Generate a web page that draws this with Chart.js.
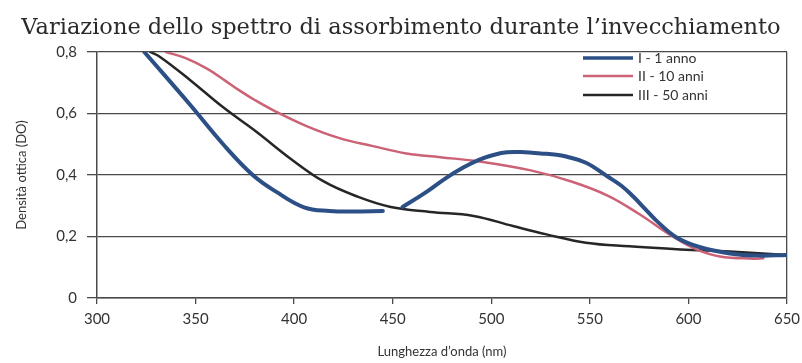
<!DOCTYPE html>
<html>
<head>
<meta charset="utf-8">
<script src="https://cdn.jsdelivr.net/npm/chart.js@4"></script>
<style>
  html, body { margin: 0; padding: 0; background: #fff; }
  #wrap { width: 802px; height: 363px; }
</style>
</head>
<body>
<div id="wrap"><canvas id="spettro"></canvas></div>
<script>
// lunghezze d'onda (nm) e densità ottica per ciascuna curva
const waveI = [324, 347, 364, 379, 391, 405, 418, 430, 445, 450,
  455, 466, 477, 486, 494, 501, 508, 517, 525, 533, 538, 548, 559, 566, 572, 578, 584, 594, 606, 621, 635, 650];
const doI = [0.80, 0.63, 0.50, 0.40, 0.345, 0.295, 0.283, 0.281, 0.283, null,
  0.296, 0.34, 0.39, 0.425, 0.45, 0.465, 0.474, 0.474, 0.47, 0.466, 0.46, 0.44, 0.395, 0.365, 0.33, 0.29, 0.25, 0.197, 0.165, 0.145, 0.138, 0.14];

const waveII = [335, 345, 356, 365, 372, 380, 389, 406, 423, 440, 457, 474, 494, 520, 541, 559, 575, 592, 604, 616, 633, 638];
const doII = [0.80, 0.78, 0.745, 0.707, 0.676, 0.644, 0.612, 0.56, 0.52, 0.494, 0.47, 0.458, 0.444, 0.415, 0.378, 0.333, 0.273, 0.20, 0.158, 0.135, 0.128, 0.129];

const waveIII = [327, 332, 347, 364, 381, 398, 415, 432, 449, 469, 491, 511, 528, 548, 570, 596, 621, 650];
const doIII = [0.80, 0.784, 0.71, 0.62, 0.54, 0.454, 0.379, 0.33, 0.296, 0.28, 0.267, 0.234, 0.207, 0.18, 0.168, 0.158, 0.151, 0.14];

const seriesNames = ['I - 1 anno', 'II - 10 anni', 'III - 50 anni'];
const seriesColors = ['#2c5086', '#cc6275', '#262626'];

const xTicks = [300, 350, 400, 450, 500, 550, 600, 650];
const yTicks = [0, 0.2, 0.4, 0.6, 0.8];
const yTickLabels = ['0', '0,2', '0,4', '0,6', '0,8'];

const zip = (xs, ys) => xs.map((x, i) => ({ x: x, y: ys[i] }));

const sansFont = 'Lato, "Open Sans", sans-serif';
const gridColor = '#4a4a4a';

// legenda disegnata dentro l'area del grafico, in alto a destra
const legendaInterna = {
  id: 'legendaInterna',
  afterDatasetsDraw(chart) {
    const { ctx, chartArea } = chart;
    const rows = [6, 24, 43];
    ctx.save();
    ctx.font = '14px ' + sansFont;
    ctx.textBaseline = 'middle';
    chart.data.datasets.forEach((ds, i) => {
      const y = chartArea.top + rows[i];
      ctx.strokeStyle = ds.borderColor;
      ctx.lineWidth = i === 0 ? 3.5 : 2.5;
      ctx.beginPath();
      ctx.moveTo(chartArea.right - 204, y);
      ctx.lineTo(chartArea.right - 154, y);
      ctx.stroke();
      ctx.fillStyle = '#333';
      ctx.fillText(ds.label, chartArea.right - 149, y);
    });
    ctx.restore();
  }
};

new Chart(document.getElementById('spettro'), {
  type: 'line',
  data: {
    datasets: [
      { label: seriesNames[0], data: zip(waveI, doI), borderColor: seriesColors[0], borderWidth: 4 },
      { label: seriesNames[1], data: zip(waveII, doII), borderColor: seriesColors[1], borderWidth: 2.5 },
      { label: seriesNames[2], data: zip(waveIII, doIII), borderColor: seriesColors[2], borderWidth: 2.5 }
    ]
  },
  options: {
    responsive: true,
    maintainAspectRatio: false,
    animation: false,
    spanGaps: false,
    layout: { padding: { left: 0, right: 0, top: 0, bottom: 0 } },
    elements: {
      point: { radius: 0 },
      line: { tension: 0.4, borderCapStyle: 'round' }
    },
    plugins: {
      legend: { display: false },
      tooltip: { enabled: false },
      title: {
        display: true,
        text: 'Variazione dello spettro di assorbimento durante l’invecchiamento',
        color: '#2a2a2a',
        font: { family: '"DejaVu Serif", "Liberation Serif", serif', size: 22.5, weight: 'normal' },
        padding: { top: 15, bottom: 10 }
      }
    },
    scales: {
      x: {
        type: 'linear',
        min: 300,
        max: 650,
        afterFit: s => { s.height = 65; s.paddingRight = 15; },
        afterBuildTicks: s => { s.ticks = xTicks.map(v => ({ value: v })); },
        ticks: {
          color: '#333',
          font: { family: sansFont, size: 15 },
          padding: 6,
          maxRotation: 0,
          autoSkip: false
        },
        grid: {
          drawOnChartArea: true,
          color: c => (c.tick && c.tick.value === 650 ? gridColor : 'transparent'),
          tickColor: gridColor,
          tickLength: 6,
          lineWidth: 1.3
        },
        border: { color: gridColor, width: 1.5 },
        title: {
          display: true,
          text: 'Lunghezza d’onda (nm)',
          color: '#333',
          font: { family: sansFont, size: 13 },
          padding: { top: 0, bottom: 3 }
        }
      },
      y: {
        min: 0,
        max: 0.8,
        afterFit: s => { s.width = 97; },
        afterBuildTicks: s => { s.ticks = yTicks.map(v => ({ value: v })); },
        ticks: {
          color: '#333',
          font: { family: sansFont, size: 15 },
          padding: 10,
          callback: v => yTickLabels[yTicks.findIndex(t => Math.abs(t - v) < 1e-6)]
        },
        grid: { color: gridColor, tickColor: gridColor, tickLength: 10, lineWidth: 1.3 },
        border: { color: gridColor, width: 1.5 },
        title: {
          display: true,
          text: 'Densità ottica (DO)',
          color: '#333',
          font: { family: sansFont, size: 13 },
          padding: { top: 14, bottom: 0 }
        }
      }
    }
  },
  plugins: [legendaInterna]
});
</script>
</body>
</html>
